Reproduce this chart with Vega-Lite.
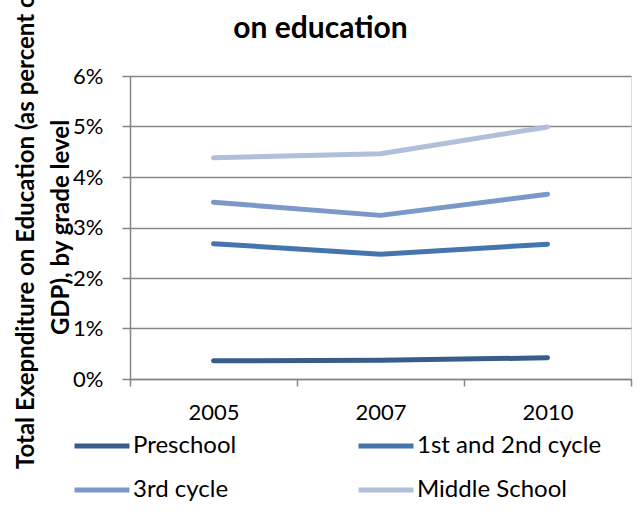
{
  "$schema": "https://vega.github.io/schema/vega-lite/v6.json",
  "autosize": "none",
  "width": 501,
  "height": 303,
  "padding": {"left": 130, "top": 76, "right": 6, "bottom": 133},
  "background": "white",
  "title": {
    "text": ["Figure 2: Total public expenditure", "on education"],
    "font": "Lato",
    "fontSize": 30,
    "fontWeight": "bold",
    "color": "black",
    "lineHeight": 43,
    "anchor": "middle",
    "dx": -60,
    "offset": -59
  },
  "data": {
    "values": [
      {"year": "2005", "level": "Preschool", "value": 0.0036},
      {"year": "2007", "level": "Preschool", "value": 0.0037},
      {"year": "2010", "level": "Preschool", "value": 0.0042},
      {"year": "2005", "level": "1st and 2nd cycle", "value": 0.0268},
      {"year": "2007", "level": "1st and 2nd cycle", "value": 0.0247},
      {"year": "2010", "level": "1st and 2nd cycle", "value": 0.0267},
      {"year": "2005", "level": "3rd cycle", "value": 0.0350},
      {"year": "2007", "level": "3rd cycle", "value": 0.0324},
      {"year": "2010", "level": "3rd cycle", "value": 0.0366},
      {"year": "2005", "level": "Middle School", "value": 0.0438},
      {"year": "2007", "level": "Middle School", "value": 0.0446},
      {"year": "2010", "level": "Middle School", "value": 0.0499}
    ]
  },
  "mark": {"type": "line", "strokeWidth": 5, "strokeCap": "round", "strokeJoin": "round"},
  "encoding": {
    "x": {
      "field": "year",
      "type": "ordinal",
      "bandPosition": 0.5,
      "scale": {"type": "band", "paddingInner": 0, "paddingOuter": 0},
      "axis": {
        "title": null,
        "labelAngle": 0,
        "labelFont": "Lato",
        "labelFontSize": 22,
        "labelColor": "black",
        "labelPadding": 16,
        "tickBand": "extent",
        "tickSize": 7,
        "tickColor": "#868686",
        "tickWidth": 1.5,
        "domainColor": "#868686",
        "domainWidth": 1.5,
        "grid": false
      }
    },
    "y": {
      "field": "value",
      "type": "quantitative",
      "scale": {"domain": [0, 0.06], "nice": false},
      "axis": {
        "values": [0, 0.01, 0.02, 0.03, 0.04, 0.05, 0.06],
        "format": ".0%",
        "labelFont": "Lato",
        "labelFontSize": 22,
        "labelColor": "black",
        "labelPadding": 19,
        "tickSize": 8,
        "tickColor": "#868686",
        "tickWidth": 1.5,
        "domainColor": "#868686",
        "domainWidth": 1.5,
        "gridColor": "#868686",
        "gridWidth": 1.5,
        "title": ["Total Exepnditure on Education (as percent of", "GDP), by grade level"],
        "titleFont": "Lato",
        "titleFontSize": 24,
        "titleFontWeight": "bold",
        "titleColor": "black",
        "titleLineHeight": 35,
        "titleAngle": -90,
        "titleAlign": "center",
        "titleBaseline": "alphabetic",
        "titleX": -97,
        "titleY": 151
      }
    },
    "color": {
      "field": "level",
      "type": "nominal",
      "sort": ["Preschool", "1st and 2nd cycle", "3rd cycle", "Middle School"],
      "scale": {
        "domain": ["Preschool", "1st and 2nd cycle", "3rd cycle", "Middle School"],
        "range": ["#385D8A", "#4674AE", "#7C98C8", "#B0BFDA"]
      },
      "legend": {
        "title": null,
        "orient": "none",
        "legendX": -58,
        "legendY": 340,
        "columns": 2,
        "direction": "horizontal",
        "symbolType": "stroke",
        "symbolSize": 3025,
        "symbolStrokeWidth": 5,
        "labelFont": "Lato",
        "labelFontSize": 24,
        "labelLimit": 300,
        "labelColor": "black",
        "labelOffset": 1,
        "columnPadding": 111,
        "rowPadding": 2
      }
    }
  }
}
